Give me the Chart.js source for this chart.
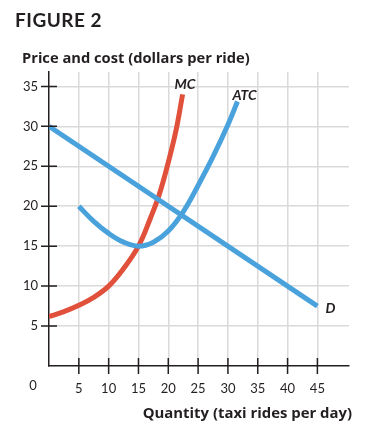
<!DOCTYPE html>
<html>
<head>
<meta charset="utf-8">
<script src="https://cdn.jsdelivr.net/npm/chart.js@4.4.1/dist/chart.umd.min.js"></script>
<style>
  html, body { margin: 0; padding: 0; background: #fff; }
  #wrap { position: relative; width: 374px; height: 432px; font-family: Lato, "Open Sans", sans-serif; color: #231f20; }
  #chart { position: absolute; left: 0; top: 0; }
  .txt { position: absolute; white-space: nowrap; font-weight: bold; line-height: 1; }
  #fig { left: 15px; top: 10px; font-size: 19px; letter-spacing: 0.5px; }
  #ytitle { left: 22px; top: 50px; font-family: "Open Sans", sans-serif; font-size: 14.7px; }
  #xtitle { right: 22px; top: 405px; font-family: "Open Sans", sans-serif; font-size: 14.9px; }
</style>
</head>
<body>
<div id="wrap">
  <canvas id="chart" width="374" height="432"></canvas>
  <div class="txt" id="fig">FIGURE 2</div>
  <div class="txt" id="ytitle">Price and cost (dollars per ride)</div>
  <div class="txt" id="xtitle">Quantity (taxi rides per day)</div>
</div>
<script>
// Data
const demandQty = [0, 45];
const demandPrice = [30, 7.5];

const mcQty = [0, 2.5, 5, 7.5, 10, 12.5, 15, 17, 18.5, 20, 21.3, 22.4];
const mcCost = [6.2, 6.8, 7.6, 8.6, 10, 12.2, 15, 18.5, 21.5, 25.5, 29.5, 34];

const atcQty = [5, 7.5, 10, 12.5, 15, 17.5, 20, 22.5, 25, 27.5, 30, 31.6];
const atcCost = [20, 18.1, 16.6, 15.5, 15, 15.5, 16.9, 19.3, 22.6, 26.2, 30.2, 33.1];

const xTicks = [5, 10, 15, 20, 25, 30, 35, 40, 45];
const yTicks = [5, 10, 15, 20, 25, 30, 35];

const curveLabels = [
  { text: "MC", x: 22.8, y: 35.2 },
  { text: "ATC", x: 32.8, y: 33.8 },
  { text: "D", x: 47.2, y: 7.2 }
];

const RED = "#e0503a";
const BLUE = "#4aa2dc";
const INK = "#231f20";

function pts(xs, ys) {
  return xs.map((x, i) => ({ x: x, y: ys[i] }));
}

// tick marks that cross the axes, the lone "0" and curve labels
const extras = {
  id: "extras",
  afterDatasetsDraw(chart) {
    const ctx = chart.ctx;
    const xs = chart.scales.x;
    const ys = chart.scales.y;
    const x0 = xs.getPixelForValue(0);
    const y0 = ys.getPixelForValue(0);
    ctx.save();
    ctx.strokeStyle = INK;
    ctx.lineWidth = 1.5;
    ctx.beginPath();
    xTicks.forEach(v => {
      const px = xs.getPixelForValue(v);
      ctx.moveTo(px, y0 - 8);
      ctx.lineTo(px, y0 + 8);
    });
    yTicks.forEach(v => {
      const py = ys.getPixelForValue(v);
      ctx.moveTo(x0 - 8, py);
      ctx.lineTo(x0 + 8, py);
    });
    ctx.stroke();

    ctx.fillStyle = INK;
    ctx.font = "13px Lato, 'Open Sans', sans-serif";
    ctx.textAlign = "center";
    ctx.textBaseline = "middle";
    ctx.fillText("0", x0 - 16, y0 + 20);

    ctx.font = "italic bold 14px Lato, 'Open Sans', sans-serif";
    curveLabels.forEach(l => {
      ctx.fillText(l.text, xs.getPixelForValue(l.x), ys.getPixelForValue(l.y));
    });
    ctx.restore();
  }
};

const setTicks = (list) => (scale) => {
  scale.ticks = list.map(v => ({ value: v }));
};

new Chart(document.getElementById("chart"), {
  type: "line",
  data: {
    datasets: [
      {
        label: "D",
        data: pts(demandQty, demandPrice),
        borderColor: BLUE,
        borderWidth: 5,
        pointRadius: 0
      },
      {
        label: "ATC",
        data: pts(atcQty, atcCost),
        borderColor: BLUE,
        borderWidth: 5,
        pointRadius: 0,
        tension: 0.4
      },
      {
        label: "MC",
        data: pts(mcQty, mcCost),
        borderColor: RED,
        borderWidth: 5,
        pointRadius: 0,
        tension: 0.4
      }
    ]
  },
  options: {
    responsive: false,
    animation: false,
    layout: { padding: { left: 0, top: 72, right: 25, bottom: 0 } },
    plugins: { legend: { display: false }, tooltip: { enabled: false } },
    scales: {
      x: {
        type: "linear",
        min: 0,
        max: 50.3,
        afterBuildTicks: setTicks(xTicks),
        afterFit(s) { s.height = 66; },
        ticks: {
          padding: 15,
          color: INK,
          autoSkip: false,
          maxRotation: 0,
          font: { family: "Lato, 'Open Sans', sans-serif", size: 13 }
        },
        grid: {
          drawTicks: false,
          lineWidth: 1.5,
          color: "#dadada"
        },
        border: { color: INK, width: 1.5 }
      },
      y: {
        type: "linear",
        min: 0,
        max: 36.8,
        afterBuildTicks: setTicks(yTicks),
        afterFit(s) { s.width = 49; },
        ticks: {
          padding: 11,
          color: INK,
          autoSkip: false,
          font: { family: "Lato, 'Open Sans', sans-serif", size: 13 }
        },
        grid: {
          drawTicks: false,
          lineWidth: 1.5,
          color: "#dadada"
        },
        border: { color: INK, width: 1.5 }
      }
    }
  },
  plugins: [extras]
});
</script>
</body>
</html>
